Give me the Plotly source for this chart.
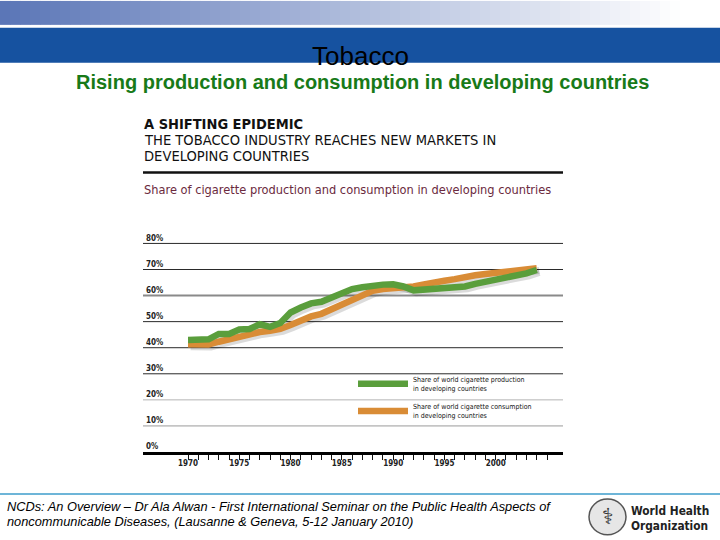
import plotly.graph_objects as go

# ---------------- data ----------------
years = list(range(1970, 2005))
production_share = [43.0, 43.0, 43.2, 45.3, 45.3, 47.0, 47.2, 49.0, 48.0, 49.5,
                     53.5, 55.4, 57.0, 57.6, 59.2, 60.6, 62.5, 63.2, 63.8, 64.2,
                     64.3, 63.5, 62.0, 62.3, 62.8, 63.0, 63.0, 63.5, 64.5, 65.3,
                     66.0, 67.0, 67.5, 68.5, 69.8]
consumption_share = [41.3, 41.0, 41.2, 42.3, 43.3, 44.2, 45.0, 46.0, 46.5, 47.2,
                     48.7, 50.5, 52.0, 53.0, 54.8, 56.5, 58.2, 60.0, 61.8, 62.5,
                     62.7, 62.8, 63.5, 64.3, 64.7, 65.7, 66.3, 67.2, 67.8, 68.3,
                     68.8, 69.0, 69.3, 70.2, 70.5]
x_label_years = [1970, 1975, 1980, 1985, 1990, 1995, 2000]
x_minor_years = list(range(1970, 2006))
y_ticks = [0, 10, 20, 30, 40, 50, 60, 70, 80]
y_tick_labels = ["0%", "10%", "20%", "30%", "40%", "50%", "60%", "70%", "80%"]
grid_colors = {80: "#2a2a2a", 70: "#2a2a2a", 60: "#8a8a8a", 50: "#2a2a2a",
               40: "#2a2a2a", 30: "#2a2a2a", 20: "#b5b5b5", 10: "#9a9a9a"}
grid_widths = {60: 2}

series_names = ["Share of world cigarette production<br>in developing countries",
                "Share of world cigarette consumption<br>in developing countries"]

GREEN = "#5a9e3c"
ORANGE = "#d98c36"
NARROW = "Liberation Sans Narrow, Arial Narrow, DejaVu Sans Condensed, sans-serif"
ARIAL = "Liberation Sans, Arial, sans-serif"

# plot-area pixel frame (y range extended a little above 80% so its label shows)
Y_TOP = 84
L, R, B = 143, 563, 452
PX_PER_PCT = (452 - 243) / 80
T = B - Y_TOP * PX_PER_PCT
W, H = 720, 540


def PX(x):
    return (x - L) / (R - L)


def PY(y):
    return (B - y) / (B - T)


fig = go.Figure()

# soft drop shadows under the lines
for vals in (consumption_share, production_share):
    fig.add_trace(go.Scatter(
        x=[v + 0.25 for v in years], y=[v - 0.9 for v in vals], mode="lines",
        line=dict(color="rgba(0,0,0,0.14)", width=7), showlegend=False,
        hoverinfo="skip"))

fig.add_trace(go.Scatter(
    x=years, y=consumption_share, mode="lines", name=series_names[1],
    line=dict(color=ORANGE, width=6.5), legendrank=2, legendgroup="c"))
fig.add_trace(go.Scatter(
    x=years, y=production_share, mode="lines", name=series_names[0],
    line=dict(color=GREEN, width=6.5), legendrank=1, legendgroup="p"))

shapes = []
# gridlines
for v in y_ticks[1:]:
    shapes.append(dict(type="line", xref="paper", yref="y", x0=0, x1=1, y0=v, y1=v,
                       line=dict(color=grid_colors[v], width=grid_widths.get(v, 1)),
                       layer="below"))

# slide header gradient band
N = 72
for i in range(N):
    x0 = i * W / N
    x1 = (i + 1) * W / N + 0.5
    t = min(1.0, ((x0 + x1) / 2) / 680)
    r = int(90 + (255 - 90) * t)
    g = int(117 + (255 - 117) * t)
    b = int(183 + (255 - 183) * t)
    shapes.append(dict(type="rect", xref="paper", yref="paper",
                       x0=PX(x0), x1=PX(x1), y0=PY(24), y1=PY(0),
                       fillcolor=f"rgb({r},{g},{b})", line=dict(width=0), layer="below"))
# solid blue band
shapes.append(dict(type="rect", xref="paper", yref="paper", x0=PX(0), x1=PX(W),
                   y0=PY(62), y1=PY(27), fillcolor="#1652a0", line=dict(width=0),
                   layer="below"))
# rule under chart header
shapes.append(dict(type="line", xref="paper", yref="paper", x0=PX(143), x1=PX(563),
                   y0=PY(172), y1=PY(172), line=dict(color="#111", width=2.5)))
# footer line
shapes.append(dict(type="line", xref="paper", yref="paper", x0=PX(0), x1=PX(W),
                   y0=PY(494), y1=PY(494), line=dict(color="#3c9ccb", width=1.5)))
# WHO emblem (simplified)
shapes.append(dict(type="circle", xref="paper", yref="paper", x0=PX(589), x1=PX(626),
                   y0=PY(535), y1=PY(499), line=dict(color="#555", width=1.5),
                   fillcolor="#e6e6e6"))

annotations = [
    dict(text="Tobacco", x=PX(360), y=PY(55), font=dict(family=ARIAL, size=26, color="#000"),
         xanchor="center", yanchor="middle"),
    dict(text="<b>Rising production and consumption in developing countries</b>",
         x=PX(362), y=PY(81), font=dict(family=ARIAL, size=20, color="#187a18"),
         xanchor="center", yanchor="middle"),
    dict(text="<b>A SHIFTING EPIDEMIC</b>", x=PX(142), y=PY(123),
         font=dict(family=NARROW, size=14.5, color="#111"), xanchor="left", yanchor="middle"),
    dict(text="THE TOBACCO INDUSTRY REACHES NEW MARKETS IN", x=PX(142), y=PY(139),
         font=dict(family=NARROW, size=14.6, color="#111"), xanchor="left", yanchor="middle"),
    dict(text="DEVELOPING COUNTRIES", x=PX(142), y=PY(155),
         font=dict(family=NARROW, size=14.6, color="#111"), xanchor="left", yanchor="middle"),
    dict(text="Share of cigarette production and consumption in developing countries",
         x=PX(142), y=PY(189), font=dict(family=NARROW, size=12.7, color="#6b2a3e"),
         xanchor="left", yanchor="middle"),
    dict(text="<i>NCDs: An Overview – Dr Ala Alwan - First International Seminar on the Public Health Aspects of</i>",
         x=PX(5), y=PY(507), font=dict(family=ARIAL, size=12.8, color="#000"),
         xanchor="left", yanchor="middle"),
    dict(text="<i>noncommunicable Diseases, (Lausanne &amp; Geneva, 5-12 January 2010)</i>",
         x=PX(5), y=PY(522), font=dict(family=ARIAL, size=12.8, color="#000"),
         xanchor="left", yanchor="middle"),
    dict(text="⚕", x=PX(607.5), y=PY(517), font=dict(family="DejaVu Sans", size=22, color="#333"),
         xanchor="center", yanchor="middle"),
    dict(text="<b>World Health</b>", x=PX(629), y=PY(511),
         font=dict(family=NARROW, size=11.8, color="#222"), xanchor="left", yanchor="middle"),
    dict(text="<b>Organization</b>", x=PX(629), y=PY(526),
         font=dict(family=NARROW, size=11.8, color="#222"), xanchor="left", yanchor="middle"),
]
for a in annotations:
    a.update(xref="paper", yref="paper", showarrow=False)

fig.update_layout(
    width=W, height=H,
    margin=dict(l=L, r=W - R, t=T, b=H - B, pad=0),
    paper_bgcolor="white", plot_bgcolor="white",
    shapes=shapes, annotations=annotations,
    showlegend=True,
    legend=dict(x=PX(353), y=PY(368), xanchor="left", yanchor="top",
                bgcolor="rgba(0,0,0,0)", traceorder="grouped", tracegroupgap=6,
                itemwidth=50,
                font=dict(family=NARROW, size=7, color="#111")),
    xaxis=dict(range=[1965.61, 2006.56], showgrid=False, zeroline=False,
               tickmode="array", tickvals=x_label_years,
               ticktext=[f"<b>{y}</b>" for y in x_label_years],
               ticks="outside", ticklen=5, tickwidth=1, tickcolor="#111",
               ticklabelstandoff=-4,
               showline=True, linecolor="#000", linewidth=3,
               tickfont=dict(family=NARROW, size=8, color="#222"),
               minor=dict(tickmode="array", tickvals=x_minor_years, ticks="outside",
                          ticklen=5, tickwidth=1, tickcolor="#111", showgrid=False),
               fixedrange=True),
    yaxis=dict(range=[0, Y_TOP], showgrid=False, zeroline=False, tickmode="array",
               tickvals=y_ticks, ticktext=[f"<b>{t}</b>" for t in y_tick_labels],
               ticks="", ticklabelposition="inside top",
               tickfont=dict(family=NARROW, size=8, color="#222"),
               showline=False, fixedrange=True),
)

fig.write_html("out.html", config={"displayModeBar": False},
               post_script="document.body.style.margin='0';")
